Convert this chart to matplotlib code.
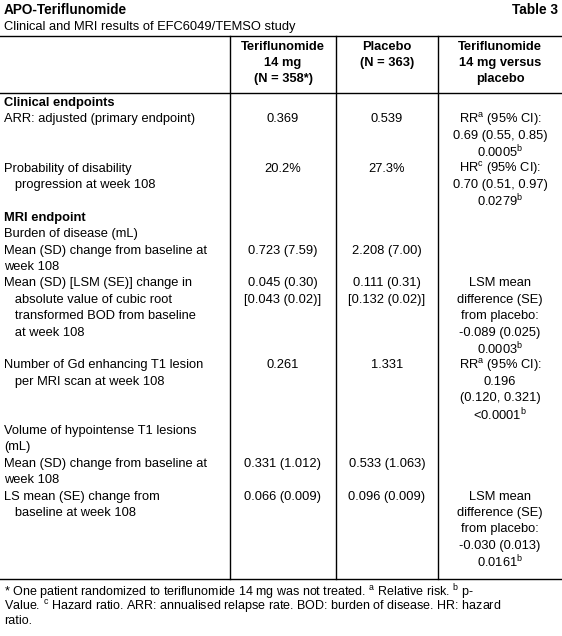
import matplotlib
matplotlib.use("Agg")
import matplotlib.pyplot as plt
from matplotlib.lines import Line2D

plt.rcParams['font.family'] = ['Liberation Sans', 'DejaVu Sans']
plt.rcParams['mathtext.fontset'] = 'custom'
plt.rcParams['mathtext.rm'] = 'Liberation Sans'

W, H = 562, 636
FS = 9.3

title = "APO-Teriflunomide"
table_no = "Table 3"
subtitle = "Clinical and MRI results of EFC6049/TEMSO study"
col_headers = ["Teriflunomide\n14 mg\n(N = 358*)", "Placebo\n(N = 363)",
               "Teriflunomide\n14 mg versus\nplacebo"]

row_labels = [
    "Clinical endpoints",
    "ARR: adjusted (primary endpoint)",
    "Probability of disability\n   progression at week 108",
    "MRI endpoint",
    "Burden of disease (mL)",
    "Mean (SD) change from baseline at\nweek 108",
    "Mean (SD) [LSM (SE)] change in\n   absolute value of cubic root\n   transformed BOD from baseline\n   at week 108",
    "Number of Gd enhancing T1 lesion\n   per MRI scan at week 108",
    "Volume of hypointense T1 lesions\n(mL)",
    "Mean (SD) change from baseline at\nweek 108",
    "LS mean (SE) change from\n   baseline at week 108",
]
is_section = [True, False, False, True, False, False, False, False, False, False, False]
teri_vals = ["", "0.369", "20.2%", "", "", "0.723 (7.59)", "0.045 (0.30)\n[0.043 (0.02)]",
             "0.261", "", "0.331 (1.012)", "0.066 (0.009)"]
placebo_vals = ["", "0.539", "27.3%", "", "", "2.208 (7.00)", "0.111 (0.31)\n[0.132 (0.02)]",
                "1.331", "", "0.533 (1.063)", "0.096 (0.009)"]
RR = r"RR$^{\rm a}$ (95% CI):"
HR = r"HR$^{\rm c}$ (95% CI):"
comparison = [
    "", RR + "\n0.69 (0.55, 0.85)\n" + r"0.0005$^{\rm b}$",
    HR + "\n0.70 (0.51, 0.97)\n" + r"0.0279$^{\rm b}$",
    "", "", "",
    "LSM mean\ndifference (SE)\nfrom placebo:\n-0.089 (0.025)\n" + r"0.0003$^{\rm b}$",
    RR + "\n0.196\n(0.120, 0.321)\n" + r"<0.0001$^{\rm b}$",
    "", "",
    "LSM mean\ndifference (SE)\nfrom placebo:\n-0.030 (0.013)\n" + r"0.0161$^{\rm b}$",
]
footnote = [
    r"* One patient randomized to teriflunomide 14 mg was not treated. $^{\rm a}$ Relative risk. $^{\rm b}$ p-",
    r"Value. $^{\rm c}$ Hazard ratio. ARR: annualised relapse rate. BOD: burden of disease. HR: hazard",
    "ratio.",
]

fig = plt.figure(figsize=(W / 100, H / 100), dpi=100)


def T(x, y, s, **kw):
    kw.setdefault('fontsize', FS)
    kw.setdefault('va', 'center')
    fig.text(x / W, 1 - y / H, s, **kw)


def hline(y, x0=0, x1=W):
    fig.add_artist(Line2D([x0 / W, x1 / W], [1 - y / H, 1 - y / H], color='black', lw=1))


def vline(x, y0, y1):
    fig.add_artist(Line2D([x / W, x / W], [1 - y0 / H, 1 - y1 / H], color='black', lw=1))


T(4, 10, title, fontweight='bold', fontsize=FS + 0.5)
T(558, 10, table_no, fontweight='bold', ha='right', fontsize=FS + 0.5)
T(4, 27, subtitle)

top, head_bot, bot = 36, 93, 579
hline(top)
hline(head_bot)
hline(bot)
col_x = [230, 336, 438]
for x in col_x:
    vline(x, top, bot)
centers = [283, 387, 500]
line_h = 16.4
for cx, h in zip(centers, col_headers):
    for i, ln in enumerate(h.split("\n")):
        T(cx, 47 + i * 16, ln, ha='center', fontweight='bold')

y0 = 103
n = 0
for lab, sec, a, b, c in zip(row_labels, is_section, teri_vals, placebo_vals, comparison):
    cells = [lab, a, b, c]
    for j, txt in enumerate(cells):
        if not txt:
            continue
        for i, ln in enumerate(txt.split("\n")):
            y = y0 + (n + i) * line_h
            if j == 0:
                T(4, y, ln, fontweight='bold' if sec else 'normal')
            else:
                T(centers[j - 1], y, ln, ha='center')
    n += max(len(t.split("\n")) for t in cells)

for i, ln in enumerate(footnote):
    T(4, 592 + i * 14.5, ln, fontsize=FS - 0.3)

fig.savefig("out.png", dpi=100)
